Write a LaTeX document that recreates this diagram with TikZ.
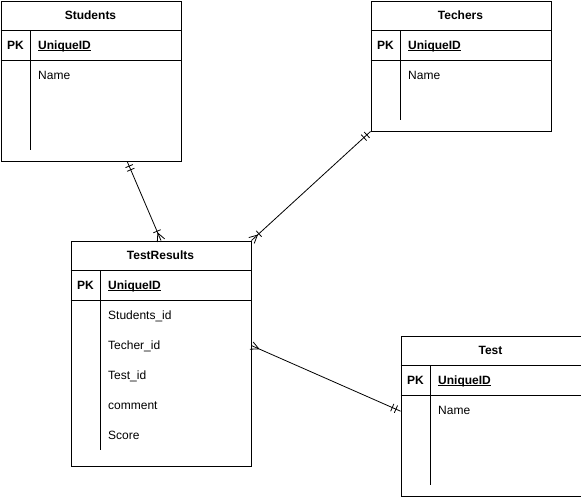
\documentclass[tikz,border=0pt]{standalone}
\usepackage{fontspec}
\setmainfont{Liberation Sans}
\usetikzlibrary{calc}
\usetikzlibrary{decorations.markings}
\newcommand{\keyul}[1]{\setbox0\hbox{#1}\rlap{\rule[-1.8pt]{\wd0}{0.8pt}}\box0}

\begin{document}
\begin{tikzpicture}[x=1pt,y=-1pt]
	\tikzstyle{tbl}=[draw,line width=1pt,rectangle,anchor=north west,inner sep=0pt,minimum width=180pt]
	\tikzstyle{title}=[font=\fontsize{12}{14}\selectfont\bfseries,text height=8.6pt,text depth=0pt,inner ysep=0pt]
	\tikzstyle{pk}=[title]
	\tikzstyle{key}=[title,anchor=west,inner xsep=0pt]
	\tikzstyle{field}=[font=\fontsize{12}{14}\selectfont,anchor=west,inner xsep=0pt,inner ysep=0pt,text height=8.6pt,text depth=0pt]
	\tikzstyle{sep}=[line width=1pt]
	\tikzstyle{rel}=[line width=0.8pt]
	\tikzstyle{startone}=[postaction={decorate,decoration={markings,
		mark=at position 5pt with {\draw[line width=0.8pt] (0,-4pt)--(0,4pt);},
		mark=at position 9pt with {\draw[line width=0.8pt] (0,-4pt)--(0,4pt);}}}]
	\tikzstyle{endmany}=[postaction={decorate,decoration={markings,
		mark=at position -8pt with {\draw[line width=0.8pt] (0,0)--(8pt,4pt) (0,0)--(8pt,-4pt);}}}]
	\tikzstyle{endonemany}=[endmany,postaction={decorate,decoration={markings,
		mark=at position -10pt with {\draw[line width=0.8pt] (0,-4pt)--(0,4pt);}}}]
	\useasboundingbox (0,0) rectangle (581,496);

	% Students
	\node[tbl,minimum height=160pt] (students) at (0.5,0.5) {};
	\draw[sep] (0.5,30.5) -- (180.5,30.5);
	\draw[sep] (0.5,60.5) -- (180.5,60.5);
	\draw[sep] (30.5,30.5) -- (30.5,150);
	\node[title] (students-title) at (90.5,15) {Students};
	\node[pk] (students-pk) at (15.5,45) {PK};
	\node[key] (students-id) at (38,45) {\keyul{UniqueID}};
	\node[field] (students-name) at (38,75) {Name};

	% Techers
	\node[tbl,minimum height=130pt] (techers) at (370.5,0.5) {};
	\draw[sep] (370.5,30.5) -- (550.5,30.5);
	\draw[sep] (370.5,60.5) -- (550.5,60.5);
	\draw[sep] (400.5,30.5) -- (400.5,120);
	\node[title] (techers-title) at (460.5,15) {Techers};
	\node[pk] (techers-pk) at (385.5,45) {PK};
	\node[key] (techers-id) at (408,45) {\keyul{UniqueID}};
	\node[field] (techers-name) at (408,75) {Name};

	% TestResults
	\node[tbl,minimum height=225pt] (results) at (70.5,240.5) {};
	\draw[sep] (70.5,270.5) -- (250.5,270.5);
	\draw[sep] (70.5,300.5) -- (250.5,300.5);
	\draw[sep] (100.5,270.5) -- (100.5,450);
	\node[title] (results-title) at (160.5,255) {TestResults};
	\node[pk] (results-pk) at (85.5,285) {PK};
	\node[key] (results-id) at (108,285) {\keyul{UniqueID}};
	\node[field] (results-students) at (108,315) {Students\_id};
	\node[field] (results-techer) at (108,345) {Techer\_id};
	\node[field] (results-test) at (108,375) {Test\_id};
	\node[field] (results-comment) at (108,405) {comment};
	\node[field] (results-score) at (108,435) {Score};

	% Test
	\node[tbl,minimum height=160pt] (test) at (400.5,335.5) {};
	\draw[sep] (400.5,365.5) -- (580.5,365.5);
	\draw[sep] (400.5,395.5) -- (580.5,395.5);
	\draw[sep] (430.5,365.5) -- (430.5,485);
	\node[title] (test-title) at (490.5,350) {Test};
	\node[pk] (test-pk) at (415.5,380) {PK};
	\node[key] (test-id) at (438,380) {\keyul{UniqueID}};
	\node[field] (test-name) at (438,410) {Name};

	% relations
	\draw[rel,startone,endonemany] ($(students.south west)!0.7!(students.south east)$) -- ($(results.north west)!0.5!(results.north east)$);
	\draw[rel,startone,endonemany] (techers.south west) -- (results.north east);
	\draw[rel,startone,endmany] ($(test.north west)!0.47!(test.south west)$) -- ($(results.north east)!0.465!(results.south east)$);
\end{tikzpicture}
\end{document}
